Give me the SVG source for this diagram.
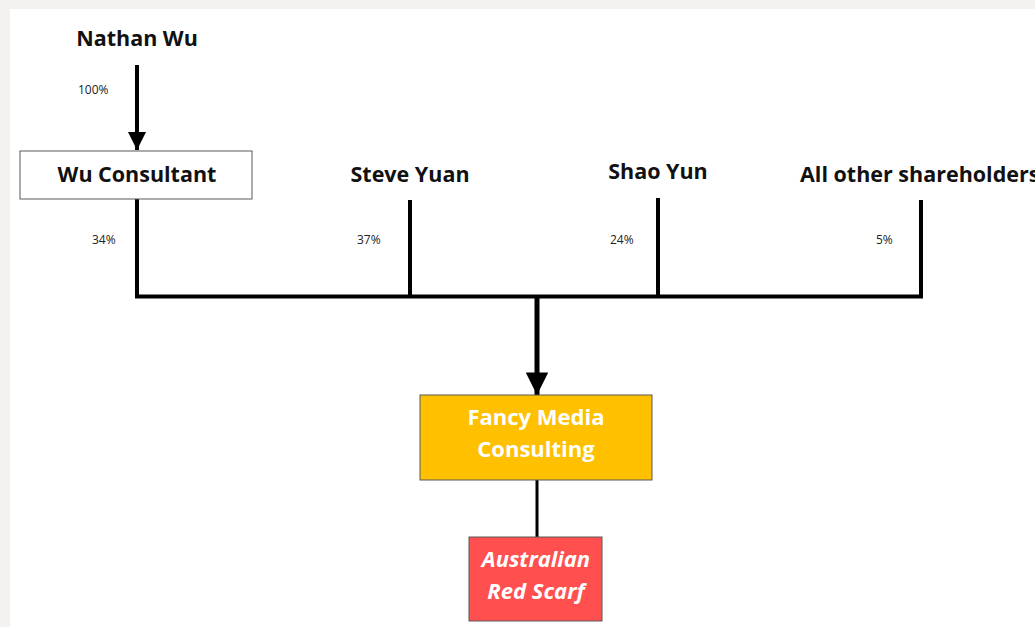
<svg xmlns="http://www.w3.org/2000/svg" width="1035" height="627" viewBox="0 0 1035 627">
<defs>
<style>
.name{font-family:"Open Sans","Noto Sans",sans-serif;font-weight:bold;font-size:21.5px;fill:#111;}
.pct{font-family:"Open Sans","Noto Sans",sans-serif;font-size:12px;fill:#222;}
.wt{font-family:"Open Sans","Noto Sans",sans-serif;font-weight:bold;font-size:22px;fill:#fff;}
.ln{stroke:#000;stroke-width:4;fill:none;}
</style>
<marker id="ah" viewBox="0 0 10 10" refX="10" refY="5" markerWidth="6.2" markerHeight="4.5" markerUnits="strokeWidth" orient="auto">
<path d="M0,0 L10,5 L0,10 Z" fill="#000"/>
</marker>
</defs>
<rect x="0" y="0" width="1035" height="627" fill="#f3f2f1"/>
<rect x="10" y="9" width="1025" height="618" fill="#fff"/>
<g id="connectors">
<line class="ln" x1="137" y1="65" x2="137" y2="150" marker-end="url(#ah)"/>
<polyline class="ln" points="137,199 137,296.5 921,296.5 921,200"/>
<line class="ln" x1="410" y1="200" x2="410" y2="296"/>
<line class="ln" x1="658" y1="198" x2="658" y2="296"/>
<line class="ln" x1="537" y1="296" x2="537" y2="395" style="stroke-width:5" marker-end="url(#ah)"/>
<line x1="537" y1="480" x2="537" y2="537" stroke="#000" stroke-width="3"/>
<text class="pct" x="78" y="94">100%</text>
<text class="pct" x="92" y="244">34%</text>
<text class="pct" x="357" y="244">37%</text>
<text class="pct" x="610" y="244">24%</text>
<text class="pct" x="876" y="244">5%</text>
</g>
<g id="nathan-wu">
<text class="name" x="137" y="46" text-anchor="middle">Nathan Wu</text>
</g>
<g id="wu-consultant">
<rect x="20" y="151" width="232" height="48" fill="#fff" stroke="#595959" stroke-width="1"/>
<text class="name" x="137" y="182" text-anchor="middle">Wu Consultant</text>
</g>
<g id="steve-yuan">
<text class="name" x="410" y="182" text-anchor="middle">Steve Yuan</text>
</g>
<g id="shao-yun">
<text class="name" x="658" y="179" text-anchor="middle">Shao Yun</text>
</g>
<g id="all-other-shareholders">
<text class="name" x="800" y="182">All other shareholders</text>
</g>
<g id="fancy-media-consulting">
<rect x="420" y="395" width="232" height="85" fill="#ffc000" stroke="#595959" stroke-width="1"/>
<text class="wt" x="536" y="425" text-anchor="middle">Fancy Media</text>
<text class="wt" x="536" y="457" text-anchor="middle">Consulting</text>
</g>
<g id="australian-red-scarf">
<rect x="469" y="537" width="133" height="84" fill="#ff4f4f" stroke="#595959" stroke-width="1"/>
<text class="wt" x="536" y="567" text-anchor="middle" font-style="italic">Australian</text>
<text class="wt" x="536" y="599" text-anchor="middle" font-style="italic">Red Scarf</text>
</g>
</svg>
